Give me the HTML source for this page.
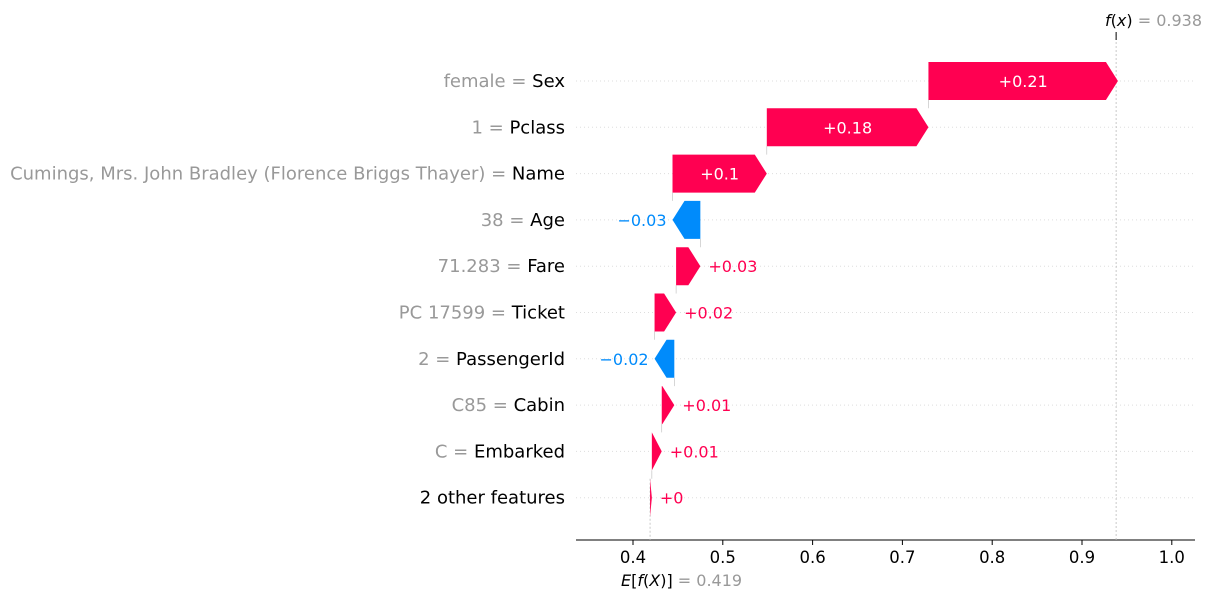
<!DOCTYPE html>
<html><head><meta charset="utf-8"><style>
body{margin:0;background:#fff;}
svg text{font-family:"DejaVu Sans","Liberation Sans",sans-serif;}
</style></head><body>
<svg id="chart" width="1211" height="600" xmlns="http://www.w3.org/2000/svg"></svg>
<script>
const featureNames=["Sex","Pclass","Name","Age","Fare","Ticket","PassengerId","Cabin","Embarked","2 other features"];
const featureValues=["female","1","Cumings, Mrs. John Bradley (Florence Briggs Thayer)","38","71.283","PC 17599","2","C85","C",""];
const shapValues=[0.211,0.180,0.105,-0.031,0.027,0.024,-0.022,0.014,0.011,0.002];
const valueLabels=["+0.21","+0.18","+0.1","\u22120.03","+0.03","+0.02","\u22120.02","+0.01","+0.01","+0"];
const baseValue=0.419;
const fxValue=0.938;
const xTicks=[0.4,0.5,0.6,0.7,0.8,0.9,1.0];

const svg=document.getElementById('chart');
const NS="http://www.w3.org/2000/svg";
const X=v=>633+(v-0.4)*898;
const Y=i=>81+i*46.3;
function mk(t,a,p){const e=document.createElementNS(NS,t);for(const k in a)e.setAttribute(k,a[k]);(p||svg).appendChild(e);return e;}
const RED="#ff0051",BLUE="#008bfb";
for(let i=0;i<featureNames.length;i++){
 const g=mk('line',{x1:576,x2:1195,y1:Y(i),y2:Y(i),stroke:'#ddd','stroke-dasharray':'1,3','stroke-width':1});
 
 
}
const ax=mk('line',{x1:576,x2:1195,y1:540,y2:540,stroke:'#000','stroke-width':1});


xTicks.forEach(t=>{
 mk('line',{x1:X(t),x2:X(t),y1:540,y2:545,stroke:'#000'});
 const tx=mk('text',{x:X(t),y:563,'text-anchor':'middle','font-size':16.5,fill:'#000'});
 tx.textContent=t.toFixed(1);
 
 
});
const el=mk('line',{x1:X(baseValue),x2:X(baseValue),y1:Y(featureNames.length-1)-19,y2:540,stroke:'#bbb','stroke-dasharray':'2,2','stroke-width':0.8});


const fl=mk('line',{x1:X(fxValue),x2:X(fxValue),y1:34,y2:540,stroke:'#bbb','stroke-dasharray':'2,2','stroke-width':0.8});


mk('line',{x1:X(fxValue),x2:X(fxValue),y1:32,y2:40,stroke:'#000'});
let cum=baseValue;
for(let i=featureNames.length-1;i>=0;i--){
 const s=shapValues[i],x0=X(cum),x1=X(cum+s),y=Y(i),h=19;
 const w=Math.abs(x1-x0),head=Math.min(w,12),dir=s>=0?1:-1;
 const xb=x1-dir*head;
 const col=s>=0?RED:BLUE;
 const p=mk('polygon',{points:`${x0},${y-h} ${xb},${y-h} ${x1},${y} ${xb},${y+h} ${x0},${y+h}`,fill:col});
 
 
 if(i>0){mk('line',{x1:x1,x2:x1,y1:Y(i-1)+h,y2:y-h,stroke:'#bbb','stroke-width':0.6});}
 const lab=mk('text',{y:y+6,'font-size':16});
 lab.textContent=valueLabels[i];
 if(w>70){lab.setAttribute('x',(x0+x1)/2);lab.setAttribute('text-anchor','middle');lab.setAttribute('fill','#fff');}
 else if(s>=0){lab.setAttribute('x',x1+8);lab.setAttribute('fill',col);}
 else{lab.setAttribute('x',x1-6);lab.setAttribute('text-anchor','end');lab.setAttribute('fill',col);}
 
 
 cum+=s;
}
for(let i=0;i<featureNames.length;i++){
 const t=mk('text',{x:565,y:Y(i)+6,'text-anchor':'end','font-size':18});
 if(featureValues[i]){const a=mk('tspan',{fill:'#999'},t);a.textContent=featureValues[i]+' = ';}
 const b=mk('tspan',{fill:'#000'},t);b.textContent=featureNames[i];
 
 
}
const ft=mk('text',{x:1202,y:26,'text-anchor':'end','font-size':16});
ft.innerHTML='<tspan font-style="italic" fill="#000">f</tspan><tspan fill="#000">(</tspan><tspan font-style="italic" fill="#000">x</tspan><tspan fill="#000">)</tspan><tspan fill="#999"> = '+fxValue.toFixed(3)+'</tspan>';


const et=mk('text',{x:621,y:586,'font-size':16});
et.innerHTML='<tspan font-style="italic" fill="#000">E</tspan><tspan fill="#000">[</tspan><tspan font-style="italic" fill="#000">f</tspan><tspan fill="#000">(</tspan><tspan font-style="italic" fill="#000">X</tspan><tspan fill="#000">)] </tspan><tspan fill="#999"> = '+baseValue.toFixed(3)+'</tspan>';


</script>
</body></html>
